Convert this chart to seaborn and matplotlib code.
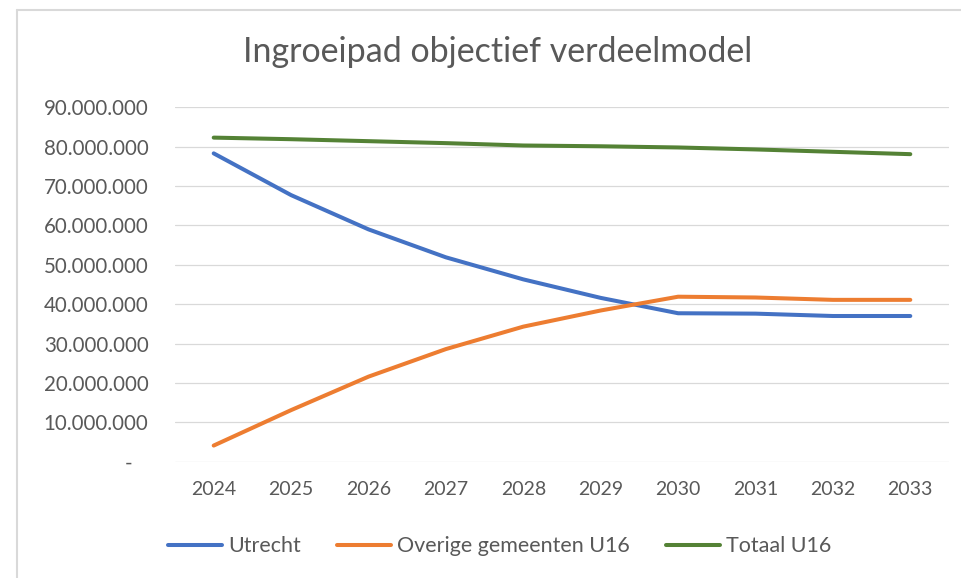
import matplotlib
matplotlib.use("Agg")
import matplotlib.pyplot as plt
from matplotlib.lines import Line2D
from matplotlib.ticker import FuncFormatter
import pandas as pd
import seaborn as sns

# ── data ──────────────────────────────────────────────────────────────────────
years = ["2024", "2025", "2026", "2027", "2028", "2029", "2030", "2031", "2032", "2033"]
utrecht = [78.3, 67.7, 59.0, 51.9, 46.3, 41.6, 37.7, 37.6, 37.0, 37.0]
overige = [4.1, 13.1, 21.6, 28.6, 34.3, 38.4, 41.9, 41.7, 41.1, 41.1]
totaal = [82.3, 81.9, 81.4, 80.9, 80.3, 80.1, 79.8, 79.3, 78.7, 78.1]
series_names = ["Utrecht", "Overige gemeenten U16", "Totaal U16"]
colors = ["#4472C4", "#ED7D31", "#548235"]

df = pd.DataFrame({"jaar": years})
for name, vals in zip(series_names, [utrecht, overige, totaal]):
    df[name] = [v * 1_000_000 for v in vals]
long = df.melt(id_vars="jaar", var_name="reeks", value_name="bedrag")

sns.set_theme(style="white")
plt.rcParams["font.family"] = ["Lato", "DejaVu Sans"]

fig = plt.figure(figsize=(9.61, 5.78), dpi=100)
ax = fig.add_axes([175 / 961, (578 - 461.7) / 578, 774 / 961, 354.4 / 578])

sns.lineplot(
    data=long, x="jaar", y="bedrag", hue="reeks",
    hue_order=series_names, palette=colors,
    linewidth=2.9, sort=False, ax=ax, legend=False,
)
for ln in ax.lines:
    ln.set_solid_capstyle("round")
    ln.set_zorder(3)

ax.set_xlim(-0.5, len(years) - 0.5)
ax.set_ylim(0, 90_000_000)
ax.set_yticks(range(0, 90_000_001, 10_000_000))


def nl_fmt(v, _pos):
    if v == 0:
        return "-   "
    return f"{int(v):,}".replace(",", ".")


ax.yaxis.set_major_formatter(FuncFormatter(nl_fmt))
ax.grid(axis="y", color="#D9D9D9", linewidth=0.9)
ax.set_axisbelow(True)
for s in ax.spines.values():
    s.set_visible(False)
ax.tick_params(axis="both", length=0, labelcolor="#595959")
ax.tick_params(axis="y", pad=19, labelsize=14.8)
ax.tick_params(axis="x", pad=14, labelsize=14)
ax.set_xlabel("")
ax.set_ylabel("")

fig.text(0.518, 0.91, "Ingroeipad objectief verdeelmodel",
         ha="center", va="center", fontsize=24.5, color="#595959")

handles = [Line2D([], [], color=c, linewidth=2.9, solid_capstyle="round") for c in colors]
fig.legend(handles, series_names, loc="center", bbox_to_anchor=(0.52, 0.055),
           ncol=3, frameon=False, fontsize=15.5, labelcolor="#595959",
           handlelength=2.5, handletextpad=0.28, columnspacing=1.7)

# light chart-area border (top and left edges visible in the screenshot)
fig.add_artist(Line2D([17 / 961, 1.0], [1 - 10 / 578, 1 - 10 / 578],
                      color="#D9D9D9", linewidth=1.5))
fig.add_artist(Line2D([17 / 961, 17 / 961], [0, 1 - 10 / 578],
                      color="#D9D9D9", linewidth=1.5))

fig.savefig("out.png", dpi=100)
